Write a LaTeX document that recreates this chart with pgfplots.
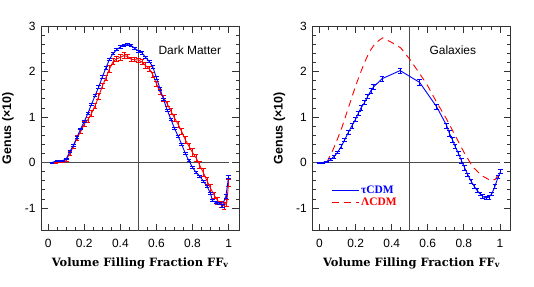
\documentclass[border=0pt]{standalone}
\usepackage{fontspec}
\setmainfont{Liberation Sans}
\newfontfamily\labfont{DejaVu Serif}
\newfontfamily\legfont{Liberation Serif}
\usepackage{pgfplots}
\usepackage{pgfplotstable}
\pgfplotsset{compat=1.18}

\pgfplotstableread{
x y e
0.02 0.00 0.01
0.05 0.04 0.015
0.08 0.04 0.015
0.10 0.08 0.02
0.12 0.24 0.02
0.14 0.38 0.02
0.16 0.56 0.02
0.18 0.74 0.02
0.20 0.90 0.025
0.22 1.08 0.025
0.24 1.28 0.025
0.26 1.47 0.025
0.28 1.66 0.025
0.30 1.88 0.025
0.32 2.08 0.025
0.34 2.27 0.025
0.36 2.40 0.025
0.38 2.48 0.025
0.40 2.54 0.025
0.42 2.58 0.025
0.44 2.59 0.025
0.46 2.57 0.025
0.48 2.51 0.025
0.50 2.45 0.025
0.52 2.41 0.025
0.54 2.31 0.025
0.56 2.22 0.025
0.58 2.10 0.025
0.60 1.86 0.025
0.62 1.62 0.025
0.64 1.38 0.025
0.66 1.15 0.025
0.68 0.95 0.025
0.70 0.75 0.025
0.72 0.58 0.025
0.74 0.40 0.025
0.76 0.20 0.025
0.78 0.04 0.025
0.80 -0.11 0.025
0.82 -0.22 0.025
0.84 -0.30 0.025
0.86 -0.41 0.025
0.88 -0.52 0.025
0.90 -0.68 0.025
0.91 -0.84 0.025
0.93 -0.88 0.025
0.95 -0.90 0.03
0.965 -0.95 0.04
0.985 -0.74 0.04
1.00 -0.32 0.04
}\dmtau

\pgfplotstableread{
x y e
0.04 0.00 0.01
0.06 0.01 0.01
0.08 0.02 0.02
0.10 0.06 0.03
0.12 0.20 0.04
0.14 0.36 0.04
0.16 0.54 0.05
0.18 0.68 0.05
0.20 0.85 0.05
0.22 0.94 0.05
0.24 1.08 0.06
0.26 1.25 0.06
0.28 1.45 0.06
0.30 1.68 0.06
0.32 1.86 0.06
0.34 2.06 0.07
0.36 2.22 0.07
0.38 2.28 0.06
0.40 2.31 0.06
0.42 2.35 0.06
0.44 2.33 0.05
0.46 2.27 0.04
0.48 2.26 0.04
0.50 2.25 0.04
0.52 2.21 0.05
0.54 2.13 0.06
0.56 2.06 0.06
0.58 1.93 0.06
0.60 1.73 0.06
0.62 1.55 0.06
0.64 1.41 0.06
0.66 1.29 0.06
0.68 1.13 0.07
0.70 0.98 0.07
0.72 0.84 0.07
0.74 0.68 0.07
0.76 0.50 0.07
0.78 0.36 0.07
0.80 0.22 0.08
0.82 0.10 0.08
0.84 -0.06 0.08
0.86 -0.22 0.08
0.88 -0.40 0.08
0.90 -0.57 0.08
0.92 -0.72 0.07
0.94 -0.84 0.07
0.96 -0.92 0.07
0.975 -0.95 0.07
0.99 -0.88 0.08
1.00 -0.45 0.08
}\dmlam

\pgfplotstableread{
x y e
0.00 0.00 0.01
0.02 0.00 0.01
0.04 0.02 0.015
0.06 0.06 0.02
0.08 0.13 0.03
0.10 0.22 0.03
0.12 0.35 0.04
0.14 0.50 0.04
0.16 0.66 0.04
0.18 0.81 0.05
0.20 0.95 0.05
0.215 1.08 0.05
0.23 1.20 0.05
0.25 1.32 0.05
0.267 1.45 0.05
0.285 1.58 0.05
0.30 1.66 0.05
0.346 1.84 0.05
0.447 2.02 0.06
0.555 1.76 0.07
0.65 1.22 0.06
0.705 0.81 0.06
0.72 0.64 0.06
0.737 0.50 0.05
0.752 0.35 0.05
0.77 0.20 0.05
0.788 0.03 0.05
0.805 -0.12 0.05
0.822 -0.27 0.04
0.84 -0.41 0.04
0.857 -0.52 0.04
0.873 -0.61 0.04
0.89 -0.69 0.04
0.905 -0.75 0.04
0.925 -0.78 0.04
0.94 -0.76 0.04
0.955 -0.69 0.04
0.972 -0.53 0.04
0.99 -0.32 0.04
1.005 -0.19 0.04
}\galtau

\pgfplotstableread{
x y
0.04 0.00
0.05 0.08
0.075 0.28
0.10 0.52
0.125 0.78
0.15 1.08
0.175 1.38
0.20 1.68
0.225 1.95
0.25 2.20
0.275 2.42
0.30 2.57
0.325 2.67
0.35 2.74
0.40 2.64
0.45 2.52
0.50 2.27
0.54 2.04
0.595 1.72
0.65 1.32
0.705 0.95
0.75 0.61
0.80 0.23
0.85 -0.10
0.90 -0.29
0.95 -0.40
0.975 -0.37
1.00 -0.20
}\gallam

\pgfplotsset{
  gstyle/.style={
    scale only axis, width=198.4bp, height=204.7bp,
    xmin=-0.04, xmax=1.06, ymin=-1.5, ymax=3,
    xtick={0,0.2,0.4,0.6,0.8,1}, xticklabels={0,0.2,0.4,0.6,0.8,1},
    ytick={-1,0,1,2,3}, yticklabels={-1,0,1,2,3},
    minor x tick num=3, minor y tick num=4,
    tick align=inside, major tick length=7bp, minor tick length=3.5bp,
    every tick/.style={black!80, line width=0.7pt},
    axis line style={black!80, line width=0.8pt},
    ticklabel style={font=\fontsize{12}{14}\selectfont},
    xticklabel style={yshift=-5bp},
    yticklabel style={xshift=-2bp},
    xlabel={Volume Filling Fraction FF\textsubscript{v}},
    xlabel style={font=\labfont\bfseries\fontsize{11.5}{13}\selectfont,
      at={(axis description cs:0.5,0)}, anchor=base, yshift=-35.5bp},
    ylabel={Genus (×10)},
    every axis y label/.style={at={(axis description cs:0,0.5)},
      rotate=90, anchor=center, yshift=33bp,
      font=\bfseries\fontsize{12.5}{14}\selectfont},
  },
  ebars/.style={
    error bars/y dir=both, error bars/y explicit,
    error bars/error bar style={draw=#1, color=#1, line width=0.7pt},
    error bars/error mark options={draw=#1, color=#1, rotate=90, mark size=2.3bp, line width=0.7pt},
  },
}

\begin{document}
\begin{tikzpicture}
\path[use as bounding box] (0,0) rectangle (534bp,287bp);

\begin{axis}[gstyle, at={(41bp,56.3bp)}, anchor=south west]
\addplot[black!70, line width=1.1pt, forget plot] coordinates {(-0.04,0) (1,0)};
\addplot[black!70, line width=1.1pt, forget plot] coordinates {(0.5,-1.5) (0.5,3)};
\addplot[red, line width=0.9pt, mark=none, ebars=red]
  table[x=x, y=y, y error=e] {\dmlam};
\addplot[blue, line width=0.9pt, mark=none, ebars=blue]
  table[x=x, y=y, y error=e] {\dmtau};
\node[font=\fontsize{12}{14}\selectfont] at (axis cs:0.785,2.47) {Dark Matter};
\end{axis}

\begin{axis}[gstyle, at={(312.3bp,56.3bp)}, anchor=south west,
  legend style={at={(axis cs:0.05,-0.75)}, anchor=west, draw=none, fill=none,
    font=\legfont\bfseries\fontsize{11.5}{12}\selectfont,
    nodes={inner sep=1.5bp}, row sep=0.5bp},
  legend cell align=left,
  legend image code/.code={\draw[#1] (0bp,0bp) -- (27bp,0bp);}]
\addplot[black!70, line width=1.1pt, forget plot] coordinates {(-0.04,0) (1,0)};
\addplot[black!70, line width=1.1pt, forget plot] coordinates {(0.5,-1.5) (0.5,3)};
\addplot[red, line width=0.9pt, dash pattern=on 7bp off 5bp, forget plot]
  table[x=x, y=y] {\gallam};
\addplot[blue, line width=0.9pt, mark=none, forget plot, ebars=blue]
  table[x=x, y=y, y error=e] {\galtau};
\node[font=\fontsize{12}{14}\selectfont] at (axis cs:0.739,2.47) {Galaxies};
\addlegendimage{blue, line width=0.9pt}
\addlegendentry{\textcolor{blue}{τCDM}}
\addlegendimage{red, line width=0.9pt, dash pattern=on 7bp off 5bp}
\addlegendentry{\textcolor{red}{ΛCDM}}
\end{axis}
\end{tikzpicture}
\end{document}
